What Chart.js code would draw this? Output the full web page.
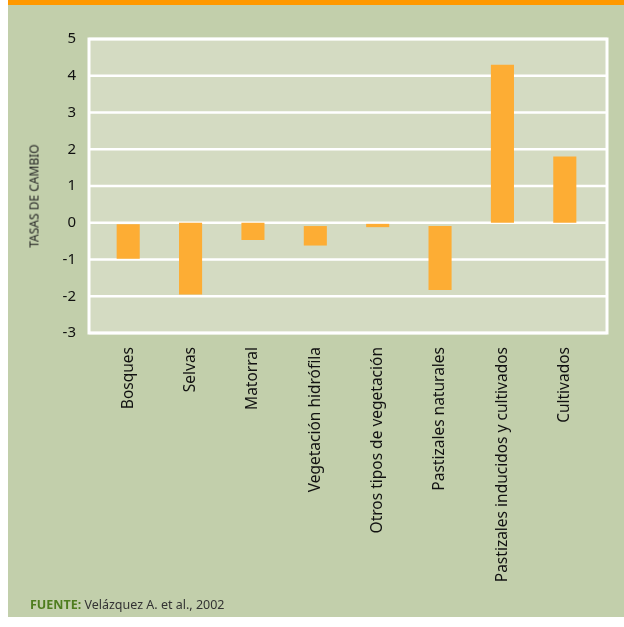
<!DOCTYPE html>
<html>
<head>
<meta charset="utf-8">
<script src="https://cdn.jsdelivr.net/npm/chart.js@4"></script>
<style>
  body { margin: 0; background: #fff; }
  #wrap { position: relative; width: 624px; height: 627px; }
  #panel {
    position: absolute; left: 8px; top: 0; width: 616px; height: 617px;
    background: #c2cfab; border-top: 5px solid #ff9900; box-sizing: border-box;
  }
  #chart { position: absolute; left: 0; top: 0; }
  #ytitle {
    position: absolute; left: 34px; top: 196px; white-space: nowrap;
    font: 12px "Noto Sans", sans-serif; color: #222;
    transform: translate(-50%, -50%) rotate(-90deg);
  }
  #source {
    position: absolute; left: 30px; top: 596px;
    font: 12.5px "Noto Sans", sans-serif; color: #333;
  }
  #source b { color: #4e7d1e; }
</style>
</head>
<body>
<div id="wrap">
  <div id="panel"></div>
  <canvas id="chart" width="624" height="627"></canvas>
  <div id="ytitle">TASAS DE CAMBIO</div>
  <div id="source"><b>FUENTE:</b> Velázquez A. et al., 2002</div>
</div>
<script>
// Data
const categories = ['Bosques', 'Selvas', 'Matorral', 'Vegetación hidrófila',
  'Otros tipos de vegetación', 'Pastizales naturales',
  'Pastizales inducidos y cultivados', 'Cultivados'];
const barStart = [-0.04, 0, 0, -0.09, -0.03, -0.09, 0, 0];
const barEnd = [-0.98, -1.95, -0.47, -0.62, -0.12, -1.83, 4.3, 1.8];
const yTicks = [-3, -2, -1, 0, 1, 2, 3, 4, 5];

// Plot background, white grid and frame (frame is a bit wider than the bars' area)
const plotFrame = {
  id: 'plotFrame',
  beforeDatasetsDraw(chart) {
    const { ctx, chartArea } = chart;
    const y = chart.scales.y;
    const left = chartArea.left - 8;
    const right = chartArea.right + 11;
    ctx.save();
    ctx.fillStyle = '#d4dbc2';
    ctx.fillRect(left, chartArea.top, right - left, chartArea.bottom - chartArea.top);
    ctx.strokeStyle = '#ffffff';
    ctx.lineWidth = 2.5;
    yTicks.forEach(v => {
      const py = y.getPixelForValue(v);
      ctx.beginPath();
      ctx.moveTo(left, py);
      ctx.lineTo(right, py);
      ctx.stroke();
    });
    ctx.lineWidth = 3;
    ctx.strokeRect(left, chartArea.top, right - left, chartArea.bottom - chartArea.top);
    ctx.restore();
  }
};

const ctx = document.getElementById('chart').getContext('2d');
new Chart(ctx, {
  type: 'bar',
  data: {
    labels: categories,
    datasets: [{
      data: barStart.map((s, i) => [s, barEnd[i]]),
      backgroundColor: '#fdad34',
      borderWidth: 0,
      borderSkipped: false,
      categoryPercentage: 1,
      barPercentage: 0.37
    }]
  },
  options: {
    responsive: false,
    animation: false,
    layout: { padding: { top: 39, right: 28, left: 0, bottom: 0 } },
    plugins: { legend: { display: false }, tooltip: { enabled: false } },
    scales: {
      x: {
        grid: { display: false, drawTicks: false },
        border: { display: false },
        ticks: {
          autoSkip: false, minRotation: 90, maxRotation: 90, padding: 14,
          color: '#111', font: { family: 'Noto Sans', size: 15.5 }
        },
        afterFit(scale) { scale.height = 294; }
      },
      y: {
        min: -3, max: 5,
        grid: { display: false, drawTicks: false },
        border: { display: false },
        afterBuildTicks(scale) { scale.ticks = yTicks.map(v => ({ value: v })); },
        ticks: {
          padding: 21, color: '#111',
          font: { family: 'Noto Sans', size: 15 }
        },
        afterFit(scale) { scale.width = 97; }
      }
    }
  },
  plugins: [plotFrame]
});
</script>
</body>
</html>
